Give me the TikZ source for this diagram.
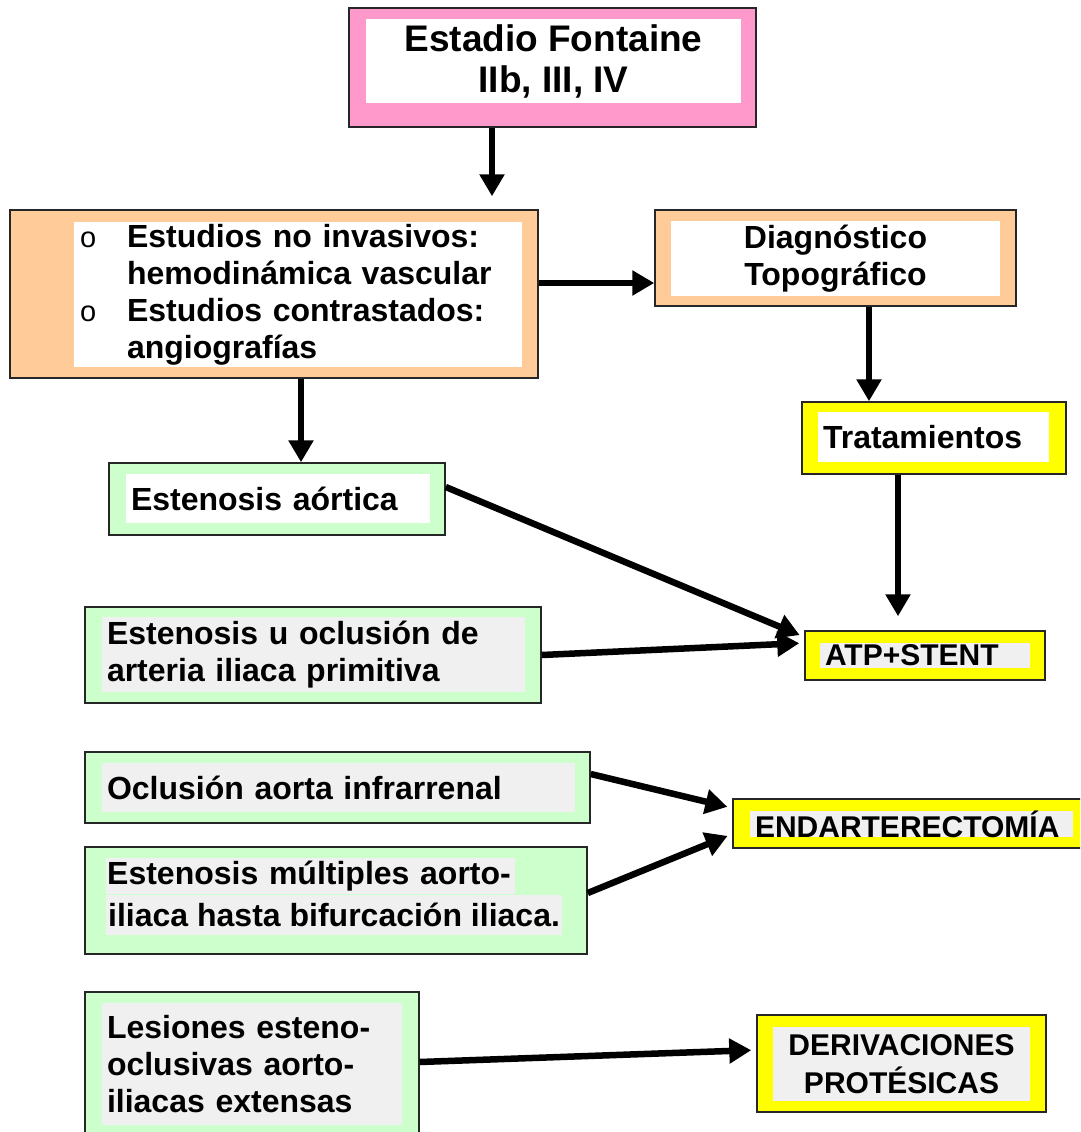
\documentclass[tikz,border=0pt]{standalone}
\usepackage{fontspec}
\setmainfont{Liberation Sans}
\usetikzlibrary{arrows.meta}

\definecolor{rosa}{HTML}{FF99CC}
\definecolor{melocoton}{HTML}{FFCC99}
\definecolor{verde}{HTML}{CCFFCC}
\definecolor{amarillo}{HTML}{FFFF00}
\definecolor{gris}{HTML}{F0F0F0}

\newcommand\titletext{\fontsize{37}{41}\selectfont\bfseries}
\newcommand\boxtext{\fontsize{32}{37}\selectfont\bfseries}
\newcommand\capstext{\fontsize{30}{38}\selectfont\bfseries}
\newcommand\vineta{\makebox[47pt][l]{\fontsize{29}{29}\selectfont\mdseries o}}

\tikzset{
  outer/.style={draw=black!85, line width=1.5pt, inner sep=0pt},
  inner/.style={inner ysep=0pt, inner xsep=5pt, align=left, font=\boxtext},
  arr/.style={line width=6.5pt, -{Triangle[width=24pt,length=22pt]}},
}

\begin{document}
\begin{tikzpicture}[x=1pt, y=-1pt]
  \clip (0,0) rectangle (1080,1132);
  \fill[white] (0,0) rectangle (1080,1132);

  % estadio
  \node[outer, fill=rosa, minimum width=407, minimum height=119] (fontaine) at (552.5,67.5) {};
  \node[inner, fill=white, minimum width=375, minimum height=84, align=center, font=\titletext] (fontaine-in) at (553.5,61) {Estadio Fontaine\\IIb, III, IV};

  % estudios
  \node[outer, fill=melocoton, minimum width=528, minimum height=168] (estudios) at (274,294) {};
  \node[inner, fill=white, minimum height=145, inner xsep=6pt, text width=436] (estudios-in) at (298,294.5)
    {\vineta Estudios no invasivos:\\
     \hspace*{47pt}hemodinámica vascular\\
     \vineta Estudios contrastados:\\
     \hspace*{47pt}angiografías};

  \node[outer, fill=melocoton, minimum width=361, minimum height=96] (diagnostico) at (835.5,258) {};
  \node[inner, fill=white, minimum width=329, minimum height=75, align=center] (diagnostico-in) at (835.5,258.5) {Diagnóstico\\Topográfico};

  \node[outer, fill=amarillo, minimum width=264, minimum height=72] (tratamientos) at (934,438) {};
  \node[inner, fill=white, minimum height=50, text width=221] (tratamientos-in) at (933.5,437) {Tratamientos};

  % lesiones
  \node[outer, fill=verde, minimum width=336, minimum height=72] (aortica) at (277,499) {};
  \node[inner, fill=white, minimum height=49, text width=294] (aortica-in) at (278,498.5) {Estenosis aórtica};

  \node[outer, fill=verde, minimum width=456, minimum height=96] (primitiva) at (313,655) {};
  \node[inner, fill=gris, minimum height=75, text width=413] (primitiva-in) at (313.5,654.5) {Estenosis u oclusión de\\arteria iliaca primitiva};

  \node[outer, fill=verde, minimum width=505, minimum height=71] (oclusion) at (337.5,787.5) {};
  \node[inner, fill=gris, minimum height=49, text width=463] (oclusion-in) at (338.5,787.5) {Oclusión aorta infrarrenal};

  \node[outer, fill=verde, minimum width=502, minimum height=107] (multiples) at (336,900.5) {};
  \node[inner, fill=gris, anchor=west, inner xsep=1pt, minimum height=36, text width=407] (multiples-a) at (106,876) {Estenosis múltiples aorto-};
  \node[inner, fill=gris, anchor=west, inner xsep=2pt, minimum height=40] (multiples-b) at (106,915) {iliaca hasta bifurcación iliaca.};

  \node[outer, fill=verde, minimum width=334, minimum height=148] (lesiones) at (252,1066) {};
  \node[inner, fill=gris, minimum height=122, text width=290] (lesiones-in) at (252,1064) {Lesiones esteno-\\oclusivas aorto-\\iliacas extensas};

  % tratamientos
  \node[outer, fill=amarillo, minimum width=240, minimum height=49] (atp) at (925,655.5) {};
  \node[inner, fill=gris, minimum height=25, text width=200, font=\capstext] (atp-in) at (925,655.5) {ATP+STENT};

  \node[outer, fill=amarillo, minimum width=357, minimum height=49] (endart) at (911.5,823.5) {};
  \node[inner, fill=gris, minimum height=24, text width=313, font=\capstext] (endart-in) at (911.5,824) {ENDARTERECTOMÍA};

  \node[outer, fill=amarillo, minimum width=289, minimum height=97] (derivaciones) at (901.5,1063.5) {};
  \node[inner, fill=gris, minimum width=257, minimum height=74, align=center, font=\capstext] (derivaciones-in) at (901.5,1064) {DERIVACIONES\\PROTÉSICAS};

  % flechas
  \draw[arr, shorten >=13pt] ([xshift=-60.5pt]fontaine.south) -- ([xshift=218pt]estudios.north);
  \draw[arr] ([yshift=11pt]estudios.east) -- ([yshift=-25pt]diagnostico.west);
  \draw[arr] ([xshift=27pt]estudios.south) -- ([xshift=24pt]aortica.north);
  \draw[arr] ([xshift=33.5pt]diagnostico.south) -- ([xshift=-65pt]tratamientos.north);
  \draw[arr, shorten >=14pt] ([xshift=-36pt]tratamientos.south) -- ([xshift=-27pt]atp.north);
  \draw[arr, shorten >=5pt] ([yshift=12pt]aortica.east) -- ([yshift=18.5pt]atp.west);
  \draw[arr, shorten >=5pt] (primitiva.east) -- ([yshift=12.5pt]atp.west);
  \draw[arr, shorten >=5pt] ([yshift=13.5pt]oclusion.east) -- ([yshift=15.5pt]endart.west);
  \draw[arr, shorten >=5pt] ([yshift=7.5pt]multiples.east) -- ([yshift=-10.5pt]endart.west);
  \draw[arr, shorten >=5pt] ([yshift=4pt]lesiones.east) -- ([yshift=13.5pt]derivaciones.west);
\end{tikzpicture}
\end{document}
